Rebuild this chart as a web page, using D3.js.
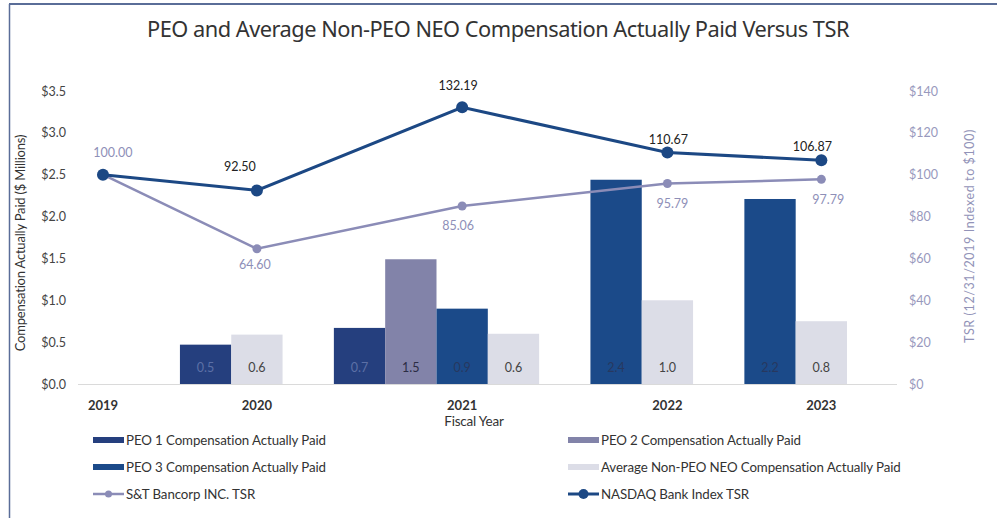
<!DOCTYPE html>
<html>
<head>
<meta charset="utf-8">
<script src="https://cdn.jsdelivr.net/npm/d3@7"></script>
<style>
  body { margin: 0; background: #fff; }
  .canvas { width: 997px; height: 518px; }
  text { font-family: Lato, "Open Sans", sans-serif; }
</style>
</head>
<body>
<div class="canvas"></div>
<script>
// data
var years = ['2019', '2020', '2021', '2022', '2023'];
var barSeries = ['PEO 1', 'PEO 2', 'PEO 3', 'Avg'];
var peo1Cap = [null, 0.47, 0.67, null, null];
var peo2Cap = [null, null, 1.49, null, null];
var peo3Cap = [null, null, 0.9, 2.44, 2.21];
var avgNeoCap = [null, 0.59, 0.6, 1.0, 0.75];
var stTsr = [100.00, 64.60, 85.06, 95.79, 97.79];
var nasdaqTsr = [100.00, 92.50, 132.19, 110.67, 106.87];
var leftTicks = [0, 0.5, 1, 1.5, 2, 2.5, 3, 3.5];
var rightTicks = [0, 20, 40, 60, 80, 100, 120, 140];

// label nudges (dx, dy) so the tags sit like in the original
var stNudge = [[10, -18], [-2, 20], [-4, 24], [5, 24], [7, 25]];
var nasdaqNudge = [[0, 0], [-17, -19], [-4, -17], [1, -8], [-9, -9]];

var colors = {'PEO 1': '#253f7e', 'PEO 2': '#8283a9', 'PEO 3': '#1b4a89', 'Avg': '#dcdde7'};
var barLabelColors = {'PEO 1': '#5c70a6', 'PEO 2': '#2b2c44', 'PEO 3': '#27385f', 'Avg': '#444'};
var values = {'PEO 1': peo1Cap, 'PEO 2': peo2Cap, 'PEO 3': peo3Cap, 'Avg': avgNeoCap};
var stColor = '#8b8cb7', nasdaqColor = '#1c4884';

var W = 997, H = 518;
var baseY = 384, topY = 91;

var svg = d3.select('.canvas').append('svg')
    .attr('width', W)
    .attr('height', H);

// frame
svg.append('line').attr('x1', 9).attr('x2', W).attr('y1', 4).attr('y2', 4)
    .attr('stroke', '#5a6d98').attr('stroke-width', 2);
svg.append('line').attr('x1', 9.5).attr('x2', 9.5).attr('y1', 4).attr('y2', H)
    .attr('stroke', '#5a6d98').attr('stroke-width', 1.5);

svg.append('text')
    .attr('x', 498).attr('y', 37)
    .attr('text-anchor', 'middle')
    .style('font-family', '"Noto Sans", sans-serif')
    .style('font-size', '21.8px')
    .style('letter-spacing', '-0.5px')
    .attr('fill', '#333')
    .text('PEO and Average Non-PEO NEO Compensation Actually Paid Versus TSR');

// slots: each year gets its bars (at least 2 slots), one empty slot between years
var slots = [];
var groupSlots = {};
years.forEach(function(yr, i){
    if(i > 0) slots.push('gap' + i);
    var keys = barSeries.filter(function(s){ return values[s][i] != null; })
        .map(function(s){ return yr + '|' + s; });
    while(keys.length < 2) keys.push(yr + '|empty' + keys.length);
    groupSlots[yr] = keys;
    slots = slots.concat(keys);
});

var xSlot = d3.scaleBand().domain(slots).range([26, 847]).padding(0);
var bw = xSlot.bandwidth();

function yearX(yr){
    var k = groupSlots[yr];
    var center = (xSlot(k[0]) + xSlot(k[k.length - 1]) + bw) / 2;
    return center + bw / 2;
}

var yLeft = d3.scaleLinear().domain([0, 3.5]).range([baseY, topY]);
var yRight = d3.scaleLinear().domain([0, 140]).range([baseY, topY]);

// left axis
var leftAxis = svg.append('g')
    .attr('transform', 'translate(66,0)')
    .call(d3.axisLeft(yLeft).tickValues(leftTicks).tickSize(0).tickPadding(0)
        .tickFormat(function(d){ return '$' + d3.format('.1f')(d); }));
leftAxis.select('.domain').remove();
leftAxis.selectAll('text').style('font-size', '12.5px').attr('fill', '#444')
    .style('font-family', 'Lato, sans-serif');

// right axis
var rightAxis = svg.append('g')
    .attr('transform', 'translate(909,0)')
    .call(d3.axisRight(yRight).tickValues(rightTicks).tickSize(0).tickPadding(0)
        .tickFormat(function(d){ return '$' + d; }));
rightAxis.select('.domain').remove();
rightAxis.selectAll('text').style('font-size', '12.5px').attr('fill', '#9899bd')
    .style('font-family', 'Lato, sans-serif');

// axis titles
svg.append('text')
    .attr('transform', 'translate(25,243) rotate(-90)')
    .attr('text-anchor', 'middle')
    .style('font-size', '13px')
    .style('letter-spacing', '-0.2px')
    .attr('fill', '#333')
    .text('Compensation Actually Paid ($ Millions)');
svg.append('text')
    .attr('transform', 'translate(974,236) rotate(-90)')
    .attr('text-anchor', 'middle')
    .style('font-size', '12.5px')
    .style('letter-spacing', '0.6px')
    .attr('fill', '#9293b8')
    .text('TSR (12/31/2019 Indexed to $100)');

// baseline
svg.append('line')
    .attr('x1', 78).attr('x2', 897)
    .attr('y1', baseY + 0.5).attr('y2', baseY + 0.5)
    .attr('stroke', '#dadada');

// bars
var barData = [];
years.forEach(function(yr, i){
    barSeries.forEach(function(s){
        if(values[s][i] != null) barData.push({year: yr, series: s, value: values[s][i]});
    });
});

var bars = svg.append('g').attr('class', 'bars');
bars.selectAll('rect')
    .data(barData)
    .enter().append('rect')
    .attr('x', function(d){ return xSlot(d.year + '|' + d.series); })
    .attr('y', function(d){ return yLeft(d.value); })
    .attr('width', bw)
    .attr('height', function(d){ return baseY - yLeft(d.value); })
    .attr('fill', function(d){ return colors[d.series]; });

bars.selectAll('text')
    .data(barData)
    .enter().append('text')
    .attr('x', function(d){ return xSlot(d.year + '|' + d.series) + bw / 2; })
    .attr('y', baseY - 12)
    .attr('text-anchor', 'middle')
    .style('font-size', '12.5px')
    .attr('fill', function(d){ return barLabelColors[d.series]; })
    .text(function(d){ return d3.format('.1f')(d.value); });

// x labels
svg.append('g').selectAll('text')
    .data(years)
    .enter().append('text')
    .attr('x', function(d){ return yearX(d); })
    .attr('y', 410)
    .attr('text-anchor', 'middle')
    .style('font-size', '13px')
    .style('font-weight', 'bold')
    .attr('fill', '#333')
    .text(function(d){ return d; });

svg.append('text')
    .attr('x', 474).attr('y', 426)
    .attr('text-anchor', 'middle')
    .style('font-size', '13.5px')
    .style('letter-spacing', '-0.2px')
    .attr('fill', '#333')
    .text('Fiscal Year');

// TSR lines
function drawLine(vals, color, width, r, cls){
    var pts = years.map(function(yr, i){ return [yearX(yr), yRight(vals[i])]; });
    var g = svg.append('g').attr('class', cls);
    g.append('path')
        .attr('d', d3.line()(pts))
        .attr('fill', 'none')
        .attr('stroke', color)
        .attr('stroke-width', width);
    g.selectAll('circle')
        .data(pts)
        .enter().append('circle')
        .attr('cx', function(d){ return d[0]; })
        .attr('cy', function(d){ return d[1]; })
        .attr('r', r)
        .attr('fill', color);
    return pts;
}

var stPts = drawLine(stTsr, stColor, 2.5, 4.5, 'st-line');
var nasdaqPts = drawLine(nasdaqTsr, nasdaqColor, 3, 6, 'nasdaq-line');

svg.append('g').selectAll('text')
    .data(stTsr)
    .enter().append('text')
    .attr('x', function(d, i){ return stPts[i][0] + stNudge[i][0]; })
    .attr('y', function(d, i){ return stPts[i][1] + stNudge[i][1]; })
    .attr('text-anchor', 'middle')
    .style('font-size', '12.5px')
    .attr('fill', '#8e8fb8')
    .text(function(d){ return d3.format('.2f')(d); });

svg.append('g').selectAll('text')
    .data(nasdaqTsr)
    .enter().filter(function(d, i){ return i > 0; })
    .append('text')
    .attr('x', function(d, i){ return nasdaqPts[i + 1][0] + nasdaqNudge[i + 1][0]; })
    .attr('y', function(d, i){ return nasdaqPts[i + 1][1] + nasdaqNudge[i + 1][1]; })
    .attr('text-anchor', 'middle')
    .style('font-size', '12.5px')
    .attr('fill', '#222')
    .text(function(d){ return d3.format('.2f')(d); });

// legend
var legendItems = [
    {name: 'PEO 1 Compensation Actually Paid', type: 'bar', color: colors['PEO 1']},
    {name: 'PEO 2 Compensation Actually Paid', type: 'bar', color: colors['PEO 2']},
    {name: 'PEO 3 Compensation Actually Paid', type: 'bar', color: colors['PEO 3']},
    {name: 'Average Non-PEO NEO Compensation Actually Paid', type: 'bar', color: colors['Avg']},
    {name: 'S&T Bancorp INC. TSR', type: 'line', color: stColor, r: 3.5, w: 2.5},
    {name: 'NASDAQ Bank Index TSR', type: 'line', color: nasdaqColor, r: 5, w: 3}
];

var legend = svg.append('g').attr('class', 'legend');
legendItems.forEach(function(item, i){
    var col = i % 2, row = Math.floor(i / 2);
    var lx = col === 0 ? 93 : 568;
    var ly = 440 + row * 27;
    var g = legend.append('g').attr('transform', 'translate(' + lx + ',' + ly + ')');
    if(item.type === 'bar'){
        g.append('rect').attr('x', 0).attr('y', -3).attr('width', 31).attr('height', 6)
            .attr('fill', item.color);
    } else {
        g.append('line').attr('x1', 0).attr('x2', 31).attr('y1', 0).attr('y2', 0)
            .attr('stroke', item.color).attr('stroke-width', item.w);
        g.append('circle').attr('cx', 15.5).attr('cy', 0).attr('r', item.r).attr('fill', item.color);
    }
    g.append('text')
        .attr('x', 33).attr('y', 4.5)
        .style('font-size', '13.3px')
        .style('letter-spacing', '-0.1px')
        .attr('fill', '#333')
        .text(item.name);
});
</script>
</body>
</html>
